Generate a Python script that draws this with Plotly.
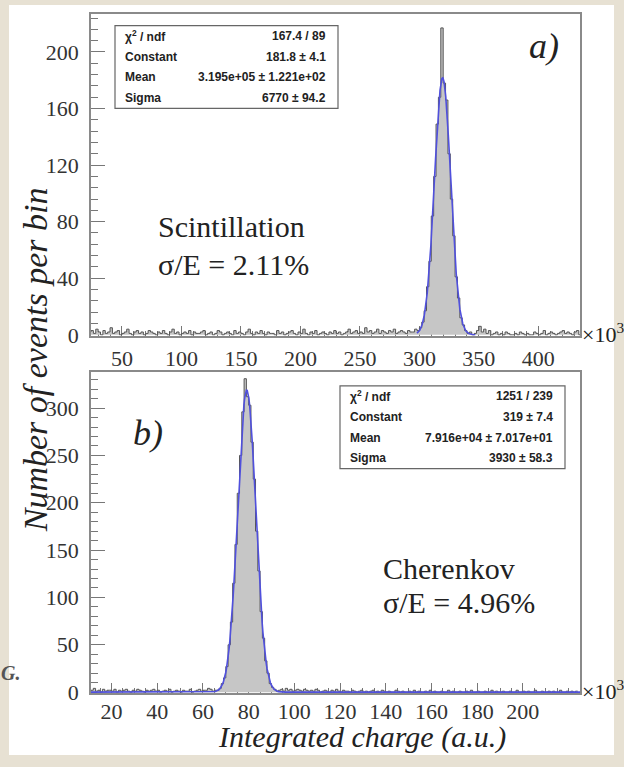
import numpy as np
import plotly.graph_objects as go

W, H = 624, 767

# ---------------- data ----------------
# (a) Scintillation histogram: bins of 2 (x10^3) starting at 22
scint_start = 22.0
scint_binwidth = 2.0
scint_noise_left = [2,3,1,4,2,0,3,1,2,5,1,2,3,0,1,2,4,1,0,2,
                    3,1,2,0,1,3,2,1,0,2,1,3,1,0,2,4,1,2,0,1,
                    2,1,3,0,2,1,1,2,3,0,1,2,0,1,3,2,0,1,2,1,
                    0,3,1,2,1,0,2,4,1,0,2,1,3,1,0,2,1,1,0,3,
                    1,2,0,1,2,3,1,0,2,1,4,1,0,2,1,3,0,1,2,1,
                    0,2,1,3,1,2,0,1,2,4,1,2,3,1,2,1,5,2,3,1,
                    2,4,1,3,2,1,3,2,4,1,2,3,2,1,3,2,2,4]
scint_peak = [3,5,9,17,34,52,84,112,149,168,217,178,166,128,96,70,41,26,12,7,3,1,2,0]
scint_noise_right = [1,3,6,2,4,1,3,0,1,2,0,1,0,2,1,0,0,1,0,2,
                     1,0,1,0,0,2,1,0,1,3,0,1,2,1,0,1,2,3,1,2,
                     1,0,2,3,0]
scint_counts = scint_noise_left + scint_peak + scint_noise_right

# (b) Cherenkov histogram: bins of 1 (x10^3) starting at 8
cher_start = 8.0
cher_binwidth = 1.0
cher_noise_left = [2,3,1,2,4,1,2,0,3,1,2,2,1,3,0,2,1,2,3,1,
                   0,2,1,3,2,1,0,2,1,2,3,1,2,0,1,2,1,3,0,1,
                   2,1,0,2,1,1,3,0,1,2,3,1,2,2,4,3]
cher_peak = [1,2,2,4,9,15,27,50,74,115,156,210,250,296,331,312,303,264,225,170,
             128,85,57,33,20,9,5,3,1]
cher_noise_right = [2,3,1,4,2,3,1,2,3,2,1,3,2,1,2,1,3,2,0,1,
                    2,1,0,2,1,3,1,0,2,1,1,0,2,1,0,1,2,0,1,0,
                    1,2,0,1,0,2,1,0,1,0,0,2,1,0,1,0,0,1,0,2,
                    0,1,0,0,1,0,2,0,1,0,0,1,0,0,2,0,1,0,0,1,
                    0,0,1,0,2,0,0,1,0,0,1,0,0,2,0,1,0,0,1,0,
                    0,1,0,0,2,0,0,1,0,1,0,0,2,0,0,1,0,0,1,0,
                    1,0,0,2,0,0,1,0,1,0,1]
cher_counts = cher_noise_left + cher_peak + cher_noise_right

# Gaussian fit results (from the stat boxes)
scint_fit_const, scint_fit_mean, scint_fit_sigma = 181.8, 3.195e+05, 6770.0
scint_fit_range = [298.0, 347.0]
cher_fit_const, cher_fit_mean, cher_fit_sigma = 319.0, 7.916e+04, 3930.0
cher_fit_range = [8.0, 225.0]

scint_xticks = [50, 100, 150, 200, 250, 300, 350, 400]
scint_yticks = [0, 40, 80, 120, 160, 200]
cher_xticks = [20, 40, 60, 80, 100, 120, 140, 160, 180, 200]
cher_yticks = [0, 50, 100, 150, 200, 250, 300]

scint_stats = [("χ<sup>2</sup> / ndf", "167.4 / 89"), ("Constant", "181.8 ± 4.1"),
               ("Mean", "3.195e+05 ± 1.221e+02"), ("Sigma", "6770 ± 94.2")]
cher_stats = [("χ<sup>2</sup> / ndf", "1251 / 239"), ("Constant", "319 ± 7.4"),
              ("Mean", "7.916e+04 ± 7.017e+01"), ("Sigma", "3930 ± 58.3")]

# ---------------- helpers ----------------
def px(x):
    return x / W

def py(y):
    return 1 - y / H

SERIF = "Liberation Serif, Times New Roman, serif"
SANS = "Liberation Sans, Arial, sans-serif"

def hist_trace(start, width, counts, xa, ya):
    edges = start + width * np.arange(len(counts) + 1)
    yv = list(counts) + [counts[-1]]
    return go.Scatter(x=edges, y=yv, mode="lines", line=dict(shape="hv", color="#555555", width=1),
                      fill="tozeroy", fillcolor="#c6c6c6", xaxis=xa, yaxis=ya,
                      showlegend=False, hoverinfo="skip")

def fit_trace(const, mean, sigma, rng, xa, ya):
    m = mean / 1e3
    s = sigma / 1e3
    xs = np.linspace(rng[0], rng[1], 600)
    ys = const * np.exp(-0.5 * ((xs - m) / s) ** 2)
    return go.Scatter(x=xs, y=ys, mode="lines", line=dict(color="#5050dd", width=1.6),
                      xaxis=xa, yaxis=ya, showlegend=False, hoverinfo="skip")

fig = go.Figure()
fig.add_trace(hist_trace(scint_start, scint_binwidth, scint_counts, "x", "y"))
fig.add_trace(fit_trace(scint_fit_const, scint_fit_mean, scint_fit_sigma, scint_fit_range, "x", "y"))
fig.add_trace(hist_trace(cher_start, cher_binwidth, cher_counts, "x2", "y2"))
fig.add_trace(fit_trace(cher_fit_const, cher_fit_mean, cher_fit_sigma, cher_fit_range, "x2", "y2"))

# frame geometry (pixels)
L, R = 91, 580
T1, B1 = 14, 341
T2, B2 = 378, 704

axis_common = dict(showline=True, linecolor="#8a8a8a", linewidth=1.5, mirror=True,
                   showgrid=False, zeroline=False, ticks="inside", tickcolor="#777777",
                   layer="below traces",
                   tickfont=dict(family=SERIF, size=22, color="#333333"))

fig.update_layout(
    width=W, height=H, autosize=False,
    margin=dict(l=0, r=0, t=0, b=0),
    paper_bgcolor="#e7e1d3", plot_bgcolor="white",
    xaxis=dict(domain=[px(L), px(R)], range=[24, 435], anchor="y", tickmode="array",
               tickvals=scint_xticks, ticklen=10, ticklabelstandoff=2,
               minor=dict(tickmode="linear", tick0=0, dtick=10, ticklen=5, ticks="inside",
                          tickcolor="#777777"), **axis_common),
    yaxis=dict(domain=[py(B1), py(T1)], range=[-0.6, 227], anchor="x", tickmode="array",
               tickvals=scint_yticks, ticklen=14, ticklabelstandoff=6,
               minor=dict(tickmode="linear", tick0=0, dtick=8, ticklen=7, ticks="inside",
                          tickcolor="#777777"), **axis_common),
    xaxis2=dict(domain=[px(L), px(R)], range=[11, 225], anchor="y2", tickmode="array",
                tickvals=cher_xticks, ticklen=10, ticklabelstandoff=-2,
                minor=dict(tickmode="linear", tick0=0, dtick=5, ticklen=5, ticks="inside",
                           tickcolor="#777777"), **axis_common),
    yaxis2=dict(domain=[py(B2), py(T2)], range=[-0.9, 338], anchor="x2", tickmode="array",
                tickvals=cher_yticks, ticklen=14, ticklabelstandoff=6,
                minor=dict(tickmode="linear", tick0=0, dtick=10, ticklen=7, ticks="inside",
                           tickcolor="#777777"), **axis_common),
)

shapes = [
    dict(type="rect", xref="paper", yref="paper", x0=px(9), x1=px(614), y0=py(767), y1=py(5),
         fillcolor="white", line=dict(width=0), layer="below"),
]

annotations = []

def stats_box(x0, x1, y0, y1, rows):
    shapes.append(dict(type="rect", xref="paper", yref="paper", x0=px(x0), x1=px(x1),
                       y0=py(y1), y1=py(y0), fillcolor="white",
                       line=dict(color="#666666", width=1.2), layer="above"))
    n = len(rows)
    step = (y1 - y0) / n
    for i, (lab, val) in enumerate(rows):
        yc = y0 + step * (i + 0.5)
        annotations.append(dict(xref="paper", yref="paper", x=px(x0 + 8), y=py(yc), xanchor="left",
                                yanchor="middle", showarrow=False, text="<b>%s</b>" % lab,
                                font=dict(family=SANS, size=12, color="#222222")))
        annotations.append(dict(xref="paper", yref="paper", x=px(x1 - 10), y=py(yc), xanchor="right",
                                yanchor="middle", showarrow=False, text="<b>%s</b>" % val,
                                font=dict(family=SANS, size=12, color="#222222")))

stats_box(115, 338, 26, 110, scint_stats)
stats_box(340, 565, 392, 476, cher_stats)

def text(x, y, s, size, xanchor="left", angle=0, color="#222222", yanchor="middle"):
    annotations.append(dict(xref="paper", yref="paper", x=px(x), y=py(y), xanchor=xanchor,
                            yanchor=yanchor, showarrow=False, text=s, textangle=angle,
                            borderpad=0,
                            font=dict(family=SERIF, size=size, color=color)))

text(544, 47, "<i>a)</i>", 36, "center")
text(148, 440, "<i>b)</i>", 36, "center")
text(157, 230, "Scintillation", 30)
text(157, 269, "σ/E = 2.11%", 30)
text(382, 578, "Cherenkov", 30)
text(382, 612, "σ/E = 4.96%", 30)
text(581, B1 - 3, "×10<sup>3</sup>", 22)
text(581, B2 - 3, "×10<sup>3</sup>", 22)
text(35, 366, "<i>Number of events per bin</i>", 34, "center", angle=-90)
text(362, 767, "<i>Integrated charge (a.u.)</i>", 30, "center", yanchor="bottom")
text(0, 684, "<b><i>G.</i></b>", 20, "left", color="#555555")

fig.update_layout(shapes=shapes, annotations=annotations)
fig.write_html("out.html")
